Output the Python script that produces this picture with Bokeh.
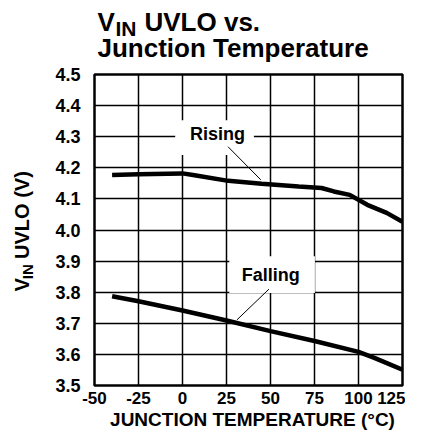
import math
from bokeh.plotting import figure
from bokeh.models import Range1d, FixedTicker, Label
from bokeh.layouts import column, row
from bokeh.embed import file_html
from bokeh.resources import INLINE

# ---- data ----
x_ticks = [-50, -25, 0, 25, 50, 75, 100, 125]
x_tick_labels = ["-50", "-25", "0", "25", "50", "75", "100", "125"]
y_ticks = [3.5, 3.6, 3.7, 3.8, 3.9, 4.0, 4.1, 4.2, 4.3, 4.4, 4.5]
y_tick_labels = ["3.5", "3.6", "3.7", "3.8", "3.9", "4.0", "4.1", "4.2", "4.3", "4.4", "4.5"]

rising_t = [-40, -25, 0, 6, 26, 45, 66, 79, 86, 95, 105, 116, 125]
rising_v = [4.177, 4.179, 4.182, 4.177, 4.158, 4.149, 4.140, 4.135, 4.124, 4.113, 4.081, 4.055, 4.026]

falling_t = [-40, -25, 0, 25, 50, 75, 100, 109, 125]
falling_v = [3.787, 3.771, 3.741, 3.709, 3.675, 3.643, 3.608, 3.589, 3.551]

series_names = ["Rising", "Falling"]

# ---- layout (canvas pixels) ----
W, H = 405, 431
TITLE_H = 64          # title strip height
YLAB_W = 40           # y-label strip width
XLAB_H = 23           # x-label strip height
MAIN_H = H - TITLE_H - XLAB_H
MAIN_W = W - YLAB_W
FL, FR, FT, FB = 94, 402, 74, 385  # plot frame in whole-canvas px
XMIN, XMAX, YMIN, YMAX = -50, 125, 3.5, 4.5
K = 0.38   # empirical baseline correction (fraction of font size)

# annotation positions measured on the reference image -> data units
def rx(px):
    return XMIN + (px - 96) * (XMAX - XMIN) / 313.0

def ry(py):
    return YMAX - (py - 79) * (YMAX - YMIN) / 313.0

FONT = "Liberation Sans"

def blank_fig(w, h):
    f = figure(width=w, height=h, output_backend="svg", toolbar_location=None,
               title=None,
               x_range=Range1d(0, w), y_range=Range1d(0, h),
               x_axis_location=None, y_axis_location=None,
               min_border=0, min_border_left=0, min_border_right=0,
               min_border_top=0, min_border_bottom=0)
    f.outline_line_color = None
    f.xgrid.visible = False
    f.ygrid.visible = False
    f.background_fill_color = "white"
    f.border_fill_color = "white"
    return f

def lab(f, x, y, text, size, angle=0.0, align="left", style="bold", ppy=1.0, along=0.0):
    s = float(size.replace("px", ""))
    if angle == 0.0:
        y = y + K * s * ppy
    else:
        x = x - K * s
        y = y - along
    f.add_layout(Label(x=x, y=y, text=text, text_align=align,
                       text_baseline="alphabetic", angle=angle,
                       text_font=FONT, text_font_style=style,
                       text_font_size=size, text_color="black"))

# ---- title strip ----
tf = blank_fig(W, TITLE_H)
lab(tf, 97, TITLE_H - 31, "V", "26px")
lab(tf, 115, TITLE_H - 36, "IN", "21px")
lab(tf, 144, TITLE_H - 31, "UVLO vs.", "26px")
lab(tf, 97, TITLE_H - 57, "Junction Temperature", "26px")

# ---- y-label strip ----
yf = blank_fig(YLAB_W, MAIN_H)
ybot = TITLE_H + MAIN_H
lab(yf, 29, ybot - 291, "V", "20px", angle=math.pi / 2, along=13)
lab(yf, 33, ybot - 277.5, "IN", "15px", angle=math.pi / 2, along=13)
lab(yf, 29, ybot - 255, "UVLO (V)", "20px", angle=math.pi / 2, along=13)

# ---- x-label strip ----
xf = blank_fig(W, XLAB_H)
lab(xf, 252, H - 426, "JUNCTION TEMPERATURE (°C)", "19px", align="center")

# ---- main plot ----
p = figure(width=MAIN_W, height=MAIN_H, output_backend="svg", toolbar_location=None,
           title=None,
           x_range=Range1d(XMIN, XMAX), y_range=Range1d(YMIN, YMAX),
           min_border_left=FL - YLAB_W, min_border_right=W - FR,
           min_border_top=FT - TITLE_H, min_border_bottom=TITLE_H + MAIN_H - FB)
p.background_fill_color = "white"
p.border_fill_color = "white"
p.outline_line_color = "black"
p.outline_line_width = 2.5

for ax in (p.xaxis[0], p.yaxis[0]):
    ax.axis_line_color = None
    ax.major_tick_line_color = None
    ax.minor_tick_line_color = None
    ax.major_tick_out = 0
    ax.major_tick_in = 0
    ax.major_label_text_font = FONT
    ax.major_label_text_font_style = "bold"
    ax.major_label_text_color = "black"

p.xaxis.major_label_text_font_size = "17px"
p.yaxis.major_label_text_font_size = "18px"
p.xaxis.ticker = FixedTicker(ticks=x_ticks)
p.xaxis.major_label_overrides = {t: s for t, s in zip(x_ticks, x_tick_labels)}
p.xaxis.major_label_standoff = 6
p.yaxis.ticker = FixedTicker(ticks=y_ticks)
p.yaxis.major_label_overrides = {t: s for t, s in zip(y_ticks, y_tick_labels)}
p.yaxis.major_label_standoff = 14

p.xgrid.ticker = FixedTicker(ticks=x_ticks)
p.ygrid.ticker = FixedTicker(ticks=y_ticks)
for g in (p.xgrid[0], p.ygrid[0]):
    g.grid_line_color = "black"
    g.grid_line_alpha = 1.0
    g.grid_line_width = 1.5

# white boxes behind the series labels
p.quad(left=[rx(178), rx(233)], right=[rx(258), rx(320)],
       top=[ry(125), ry(262)], bottom=[ry(160), ry(299)],
       fill_color="white", line_color=None)

# curves
p.line(rising_t, rising_v, line_color="black", line_width=4.5)
p.line(falling_t, falling_v, line_color="black", line_width=4.5)

# leader lines
p.segment(x0=[rx(231.7), rx(273.3)], y0=[ry(151.7), ry(295)],
          x1=[rx(265), rx(240.7)], y1=[ry(185), ry(326)],
          line_color="black", line_width=1)

ppy_main = (YMAX - YMIN) / (FB - FT)
lab(p, rx(221), ry(145.7), series_names[0], "18px", align="center", ppy=ppy_main)
lab(p, rx(275), ry(287.7), series_names[1], "18px", align="center", ppy=ppy_main)

layout = column(tf, row(yf, p), xf)

open("out.html", "w").write(file_html(layout, INLINE))
